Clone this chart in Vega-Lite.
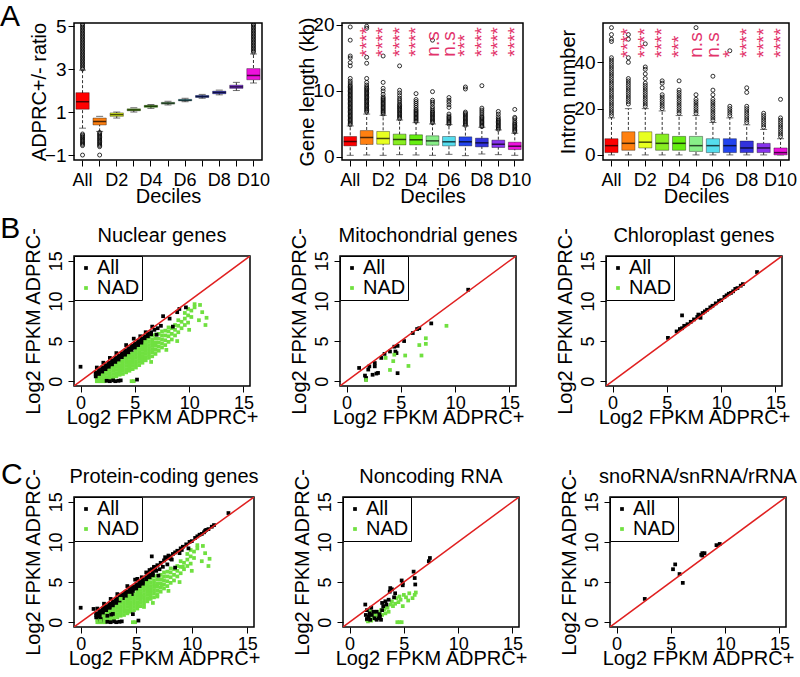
{
"$schema":"https://vega.github.io/schema/vega-lite/v6.json",
"padding":{"left":0,"top":2,"right":0,"bottom":0},
"config":{
 "font":"Liberation Sans",
 "view":{"stroke":"black","strokeWidth":1.5},
 "axis":{"domain":false,"grid":false,"tickColor":"black","labelColor":"black","titleColor":"black","labelFontSize":19,"titleFontSize":20,"titleFontWeight":"normal","tickSize":6,"labelPadding":3},
 "title":{"fontSize":20,"fontWeight":"normal","color":"black","offset":-19,"frame":"group"},
 "legend":{"orient":"top-left","offset":0,"padding":2,"strokeColor":"black","fillColor":"white","labelFontSize":20,"symbolType":"square","symbolSize":14,"rowPadding":-2,"labelOffset":1,"symbolStrokeWidth":0,"labelLimit":0}
},
"datasets":{
"diag":[{"x":-0.6,"y":-0.6,"x2":15.6,"y2":15.6}],
"a1b":[
{"d":"All","lo":0.25,"q1":1.13,"med":1.48,"q3":1.9,"hi":2.95},
{"d":"D1","lo":0.1,"q1":0.4,"med":0.56,"q3":0.72,"hi":0.8},
{"d":"D2","lo":0.72,"q1":0.8,"med":0.88,"q3":0.96,"hi":1.0},
{"d":"D3","lo":1.0,"q1":1.06,"med":1.1,"q3":1.15,"hi":1.2},
{"d":"D4","lo":1.17,"q1":1.22,"med":1.27,"q3":1.31,"hi":1.35},
{"d":"D5","lo":1.33,"q1":1.37,"med":1.41,"q3":1.45,"hi":1.5},
{"d":"D6","lo":1.48,"q1":1.52,"med":1.55,"q3":1.59,"hi":1.64},
{"d":"D7","lo":1.64,"q1":1.68,"med":1.72,"q3":1.77,"hi":1.82},
{"d":"D8","lo":1.8,"q1":1.85,"med":1.91,"q3":1.97,"hi":2.02},
{"d":"D9","lo":2.0,"q1":2.1,"med":2.17,"q3":2.25,"hi":2.38},
{"d":"D10","lo":2.35,"q1":2.5,"med":2.7,"q3":3.02,"hi":3.7}
],
"a1o":[
{"d":"All","v":3.0},{"d":"All","v":3.07},{"d":"All","v":3.14},{"d":"All","v":3.21},{"d":"All","v":3.28},{"d":"All","v":3.35},{"d":"All","v":3.42},{"d":"All","v":3.49},{"d":"All","v":3.56},{"d":"All","v":3.63},{"d":"All","v":3.7},{"d":"All","v":3.77},{"d":"All","v":3.84},{"d":"All","v":3.91},{"d":"All","v":3.98},{"d":"All","v":4.05},{"d":"All","v":4.12},{"d":"All","v":4.19},{"d":"All","v":4.26},{"d":"All","v":4.33},{"d":"All","v":4.4},{"d":"All","v":4.47},{"d":"All","v":4.54},{"d":"All","v":4.61},{"d":"All","v":4.68},{"d":"All","v":4.75},{"d":"All","v":4.82},{"d":"All","v":4.89},{"d":"All","v":4.96},{"d":"All","v":5.03},{"d":"All","v":5.1},
{"d":"All","v":-0.02},{"d":"All","v":-0.08},{"d":"All","v":-0.14},{"d":"All","v":-0.2},{"d":"All","v":-0.26},{"d":"All","v":-0.32},{"d":"All","v":-0.38},{"d":"All","v":-0.44},{"d":"All","v":-0.5},{"d":"All","v":-0.56},{"d":"All","v":-1.0},
{"d":"D1","v":0.05},{"d":"D1","v":-0.01},{"d":"D1","v":-0.07},{"d":"D1","v":-0.13},{"d":"D1","v":-0.19},{"d":"D1","v":-0.25},{"d":"D1","v":-0.31},{"d":"D1","v":-0.37},{"d":"D1","v":-0.43},{"d":"D1","v":-0.49},{"d":"D1","v":-0.55},{"d":"D1","v":-0.61},{"d":"D1","v":-1.0},
{"d":"D10","v":3.78},{"d":"D10","v":3.85},{"d":"D10","v":3.92},{"d":"D10","v":3.99},{"d":"D10","v":4.06},{"d":"D10","v":4.13},{"d":"D10","v":4.2},{"d":"D10","v":4.27},{"d":"D10","v":4.34},{"d":"D10","v":4.41},{"d":"D10","v":4.48},{"d":"D10","v":4.55},{"d":"D10","v":4.62},{"d":"D10","v":4.69},{"d":"D10","v":4.76},{"d":"D10","v":4.83},{"d":"D10","v":4.9},{"d":"D10","v":4.97},{"d":"D10","v":5.04},{"d":"D10","v":5.1}
],
"a2b":[
{"d":"All","lo":0.25,"q1":1.68,"med":2.34,"q3":3.1,"hi":4.7},
{"d":"D1","lo":0.3,"q1":1.9,"med":2.95,"q3":4.0,"hi":6.5},
{"d":"D2","lo":0.25,"q1":1.93,"med":2.8,"q3":3.87,"hi":6.3},
{"d":"D3","lo":0.35,"q1":1.83,"med":2.65,"q3":3.46,"hi":5.6},
{"d":"D4","lo":0.3,"q1":1.83,"med":2.6,"q3":3.36,"hi":5.2},
{"d":"D5","lo":0.25,"q1":1.78,"med":2.44,"q3":3.2,"hi":5.0},
{"d":"D6","lo":0.4,"q1":1.68,"med":2.3,"q3":3.1,"hi":4.9},
{"d":"D7","lo":0.2,"q1":1.68,"med":2.3,"q3":3.05,"hi":4.7},
{"d":"D8","lo":0.45,"q1":1.53,"med":2.14,"q3":2.85,"hi":4.5},
{"d":"D9","lo":0.35,"q1":1.43,"med":1.93,"q3":2.55,"hi":4.1},
{"d":"D10","lo":0.25,"q1":1.12,"med":1.63,"q3":2.24,"hi":3.6}
],
"a2o":[
{"d":"All","v":4.9},{"d":"All","v":5.1},{"d":"All","v":5.3},{"d":"All","v":5.5},{"d":"All","v":5.7},{"d":"All","v":5.9},{"d":"All","v":6.1},{"d":"All","v":6.3},{"d":"All","v":6.5},{"d":"All","v":6.7},{"d":"All","v":6.9},{"d":"All","v":7.1},{"d":"All","v":7.3},{"d":"All","v":7.5},{"d":"All","v":7.7},{"d":"All","v":7.9},{"d":"All","v":8.1},{"d":"All","v":8.3},{"d":"All","v":8.5},{"d":"All","v":8.7},{"d":"All","v":8.9},{"d":"All","v":9.1},{"d":"All","v":9.3},{"d":"All","v":9.5},{"d":"All","v":9.7},{"d":"All","v":9.9},{"d":"All","v":10.1},{"d":"All","v":10.3},{"d":"All","v":10.5},{"d":"All","v":10.7},{"d":"All","v":10.9},{"d":"All","v":11.2},{"d":"All","v":11.5},{"d":"All","v":11.9},{"d":"All","v":13.8},{"d":"All","v":14.3},{"d":"All","v":15.0},{"d":"All","v":15.3},{"d":"All","v":17.7},{"d":"All","v":19.7},
{"d":"D1","v":6.8},{"d":"D1","v":7.0},{"d":"D1","v":7.2},{"d":"D1","v":7.4},{"d":"D1","v":7.6},{"d":"D1","v":7.8},{"d":"D1","v":8.0},{"d":"D1","v":8.2},{"d":"D1","v":8.4},{"d":"D1","v":8.6},{"d":"D1","v":8.8},{"d":"D1","v":9.0},{"d":"D1","v":9.2},{"d":"D1","v":9.4},{"d":"D1","v":9.6},{"d":"D1","v":9.8},{"d":"D1","v":10.0},{"d":"D1","v":10.2},{"d":"D1","v":10.4},{"d":"D1","v":10.6},{"d":"D1","v":10.9},{"d":"D1","v":11.3},{"d":"D1","v":11.9},{"d":"D1","v":14.2},{"d":"D1","v":15.1},{"d":"D1","v":19.5},{"d":"D1","v":19.8},
{"d":"D2","v":6.5},{"d":"D2","v":6.7},{"d":"D2","v":6.9},{"d":"D2","v":7.1},{"d":"D2","v":7.3},{"d":"D2","v":7.5},{"d":"D2","v":7.7},{"d":"D2","v":7.9},{"d":"D2","v":8.1},{"d":"D2","v":8.3},{"d":"D2","v":8.5},{"d":"D2","v":8.7},{"d":"D2","v":8.9},{"d":"D2","v":9.1},{"d":"D2","v":9.5},{"d":"D2","v":10.0},{"d":"D2","v":10.4},{"d":"D2","v":11.3},{"d":"D2","v":15.3},
{"d":"D3","v":5.8},{"d":"D3","v":6.0},{"d":"D3","v":6.2},{"d":"D3","v":6.4},{"d":"D3","v":6.6},{"d":"D3","v":6.8},{"d":"D3","v":7.0},{"d":"D3","v":7.2},{"d":"D3","v":7.4},{"d":"D3","v":7.6},{"d":"D3","v":7.8},{"d":"D3","v":8.0},{"d":"D3","v":8.3},{"d":"D3","v":8.6},{"d":"D3","v":8.9},{"d":"D3","v":9.3},{"d":"D3","v":9.7},{"d":"D3","v":10.1},{"d":"D3","v":13.8},
{"d":"D4","v":5.4},{"d":"D4","v":5.6},{"d":"D4","v":5.8},{"d":"D4","v":6.0},{"d":"D4","v":6.2},{"d":"D4","v":6.4},{"d":"D4","v":6.6},{"d":"D4","v":6.8},{"d":"D4","v":7.0},{"d":"D4","v":7.2},{"d":"D4","v":7.5},{"d":"D4","v":7.8},{"d":"D4","v":8.1},{"d":"D4","v":8.4},{"d":"D4","v":8.7},{"d":"D4","v":9.6},
{"d":"D5","v":5.2},{"d":"D5","v":5.4},{"d":"D5","v":5.6},{"d":"D5","v":5.8},{"d":"D5","v":6.0},{"d":"D5","v":6.2},{"d":"D5","v":6.4},{"d":"D5","v":6.6},{"d":"D5","v":6.8},{"d":"D5","v":7.0},{"d":"D5","v":7.3},{"d":"D5","v":7.6},{"d":"D5","v":8.0},{"d":"D5","v":8.3},{"d":"D5","v":8.6},{"d":"D5","v":9.9},{"d":"D5","v":17.7},
{"d":"D6","v":5.0},{"d":"D6","v":5.2},{"d":"D6","v":5.4},{"d":"D6","v":5.6},{"d":"D6","v":5.8},{"d":"D6","v":6.0},{"d":"D6","v":6.2},{"d":"D6","v":6.5},{"d":"D6","v":7.5},{"d":"D6","v":7.9},{"d":"D6","v":8.3},{"d":"D6","v":8.6},{"d":"D6","v":9.0},
{"d":"D7","v":4.8},{"d":"D7","v":5.0},{"d":"D7","v":5.2},{"d":"D7","v":5.4},{"d":"D7","v":5.6},{"d":"D7","v":5.8},{"d":"D7","v":6.0},{"d":"D7","v":6.2},{"d":"D7","v":6.4},{"d":"D7","v":6.6},{"d":"D7","v":6.8},{"d":"D7","v":10.3},{"d":"D7","v":10.6},
{"d":"D8","v":4.6},{"d":"D8","v":4.8},{"d":"D8","v":5.0},{"d":"D8","v":5.2},{"d":"D8","v":5.4},{"d":"D8","v":5.6},{"d":"D8","v":5.8},{"d":"D8","v":6.0},{"d":"D8","v":6.2},{"d":"D8","v":6.5},{"d":"D8","v":6.8},{"d":"D8","v":7.1},{"d":"D8","v":7.4},{"d":"D8","v":10.8},
{"d":"D9","v":4.2},{"d":"D9","v":4.4},{"d":"D9","v":4.6},{"d":"D9","v":4.8},{"d":"D9","v":5.0},{"d":"D9","v":5.2},{"d":"D9","v":5.4},{"d":"D9","v":5.6},{"d":"D9","v":5.8},{"d":"D9","v":6.1},{"d":"D9","v":6.5},{"d":"D9","v":6.9},
{"d":"D10","v":3.8},{"d":"D10","v":4.0},{"d":"D10","v":4.2},{"d":"D10","v":4.4},{"d":"D10","v":4.6},{"d":"D10","v":4.8},{"d":"D10","v":5.0},{"d":"D10","v":5.2},{"d":"D10","v":5.5},{"d":"D10","v":5.8},{"d":"D10","v":6.0},{"d":"D10","v":7.2}
],
"a2s":[
{"d":"D1","s":"****","y":15.2},{"d":"D2","s":"****","y":15.2},{"d":"D3","s":"****","y":15.2},{"d":"D4","s":"****","y":15.2},{"d":"D5","s":"n.s","y":15.2},{"d":"D6","s":"n.s","y":15.2},{"d":"D7","s":"***","y":15.2},{"d":"D8","s":"****","y":15.2},{"d":"D9","s":"****","y":15.2},{"d":"D10","s":"****","y":15.2}
],
"a3b":[
{"d":"All","lo":0,"q1":1,"med":4,"q3":7,"hi":16},
{"d":"D1","lo":0,"q1":2,"med":5,"q3":10,"hi":20},
{"d":"D2","lo":0,"q1":3,"med":5.5,"q3":10,"hi":20},
{"d":"D3","lo":0,"q1":2,"med":5,"q3":9,"hi":19},
{"d":"D4","lo":0,"q1":2,"med":5,"q3":8,"hi":17},
{"d":"D5","lo":0,"q1":1.5,"med":4,"q3":8,"hi":17},
{"d":"D6","lo":0,"q1":1,"med":4,"q3":7,"hi":14},
{"d":"D7","lo":0,"q1":1,"med":4,"q3":7,"hi":16},
{"d":"D8","lo":0,"q1":1,"med":3,"q3":6,"hi":13},
{"d":"D9","lo":0,"q1":1,"med":3,"q3":5,"hi":11},
{"d":"D10","lo":0,"q1":0,"med":1,"q3":3,"hi":7}
],
"a3o":[
{"d":"All","v":17},{"d":"All","v":18},{"d":"All","v":19},{"d":"All","v":20},{"d":"All","v":21},{"d":"All","v":22},{"d":"All","v":23},{"d":"All","v":24},{"d":"All","v":25},{"d":"All","v":26},{"d":"All","v":27},{"d":"All","v":28},{"d":"All","v":29},{"d":"All","v":30},{"d":"All","v":31},{"d":"All","v":32},{"d":"All","v":33},{"d":"All","v":34},{"d":"All","v":35},{"d":"All","v":36},{"d":"All","v":37},{"d":"All","v":38},{"d":"All","v":39},{"d":"All","v":40},{"d":"All","v":41},{"d":"All","v":42},{"d":"All","v":49},{"d":"All","v":50},{"d":"All","v":52},{"d":"All","v":55},
{"d":"D1","v":22},{"d":"D1","v":23},{"d":"D1","v":24},{"d":"D1","v":25},{"d":"D1","v":26},{"d":"D1","v":27},{"d":"D1","v":28},{"d":"D1","v":29},{"d":"D1","v":30},{"d":"D1","v":31},{"d":"D1","v":32},{"d":"D1","v":33},{"d":"D1","v":40},{"d":"D1","v":42},{"d":"D1","v":50},{"d":"D1","v":52},
{"d":"D2","v":21},{"d":"D2","v":22},{"d":"D2","v":23},{"d":"D2","v":24},{"d":"D2","v":25},{"d":"D2","v":26},{"d":"D2","v":27},{"d":"D2","v":28},{"d":"D2","v":29},{"d":"D2","v":30},{"d":"D2","v":31},{"d":"D2","v":33},{"d":"D2","v":35},{"d":"D2","v":37},{"d":"D2","v":38},{"d":"D2","v":48},
{"d":"D3","v":20},{"d":"D3","v":21},{"d":"D3","v":22},{"d":"D3","v":23},{"d":"D3","v":24},{"d":"D3","v":25},{"d":"D3","v":26},{"d":"D3","v":29},{"d":"D3","v":31},{"d":"D3","v":32},
{"d":"D4","v":18},{"d":"D4","v":19},{"d":"D4","v":20},{"d":"D4","v":21},{"d":"D4","v":22},{"d":"D4","v":23},{"d":"D4","v":24},{"d":"D4","v":25},{"d":"D4","v":26},{"d":"D4","v":27},{"d":"D4","v":28},{"d":"D4","v":32},
{"d":"D5","v":18},{"d":"D5","v":19},{"d":"D5","v":20},{"d":"D5","v":21},{"d":"D5","v":22},{"d":"D5","v":23},{"d":"D5","v":24},{"d":"D5","v":26},{"d":"D5","v":55},
{"d":"D6","v":15},{"d":"D6","v":16},{"d":"D6","v":17},{"d":"D6","v":18},{"d":"D6","v":19},{"d":"D6","v":20},{"d":"D6","v":21},{"d":"D6","v":22},{"d":"D6","v":23},{"d":"D6","v":24},{"d":"D6","v":26},{"d":"D6","v":28},{"d":"D6","v":34},
{"d":"D7","v":17},{"d":"D7","v":18},{"d":"D7","v":19},{"d":"D7","v":20},{"d":"D7","v":21},{"d":"D7","v":45},
{"d":"D8","v":14},{"d":"D8","v":15},{"d":"D8","v":16},{"d":"D8","v":17},{"d":"D8","v":18},{"d":"D8","v":19},{"d":"D8","v":20},{"d":"D8","v":21},{"d":"D8","v":27},{"d":"D8","v":29},
{"d":"D9","v":12},{"d":"D9","v":13},{"d":"D9","v":14},{"d":"D9","v":15},{"d":"D9","v":16},{"d":"D9","v":17},{"d":"D9","v":18},
{"d":"D10","v":8},{"d":"D10","v":9},{"d":"D10","v":10},{"d":"D10","v":11},{"d":"D10","v":12},{"d":"D10","v":13},{"d":"D10","v":14},{"d":"D10","v":15},{"d":"D10","v":16},{"d":"D10","v":24}
],
"a3s":[
{"d":"D1","s":"****","y":42},{"d":"D2","s":"****","y":42},{"d":"D3","s":"****","y":42},{"d":"D4","s":"***","y":42},{"d":"D5","s":"n.s","y":42},{"d":"D6","s":"n.s","y":42},{"d":"D7","s":"*","y":42},{"d":"D8","s":"****","y":42},{"d":"D9","s":"****","y":42},{"d":"D10","s":"****","y":42}
],
"nuc":[
{"x":1.5,"y":0.0,"g":"NAD"},{"x":1.5,"y":0.3,"g":"NAD"},{"x":1.5,"y":0.6,"g":"NAD"},{"x":1.5,"y":0.9,"g":"NAD"},
{"x":1.8,"y":0.0,"g":"NAD"},{"x":1.8,"y":0.3,"g":"NAD"},{"x":1.8,"y":0.7,"g":"NAD"},{"x":1.8,"y":1.1,"g":"NAD"},
{"x":2.1,"y":0.0,"g":"NAD"},{"x":2.1,"y":0.4,"g":"NAD"},{"x":2.1,"y":0.8,"g":"NAD"},{"x":2.1,"y":1.2,"g":"NAD"},{"x":2.1,"y":1.5,"g":"NAD"},
{"x":2.4,"y":0.1,"g":"NAD"},{"x":2.4,"y":0.5,"g":"NAD"},{"x":2.4,"y":0.9,"g":"NAD"},{"x":2.4,"y":1.3,"g":"NAD"},{"x":2.4,"y":1.7,"g":"NAD"},
{"x":2.7,"y":0.2,"g":"NAD"},{"x":2.7,"y":0.6,"g":"NAD"},{"x":2.7,"y":1.0,"g":"NAD"},{"x":2.7,"y":1.4,"g":"NAD"},{"x":2.7,"y":1.8,"g":"NAD"},{"x":2.7,"y":2.0,"g":"NAD"},
{"x":3.0,"y":0.5,"g":"NAD"},{"x":3.0,"y":0.9,"g":"NAD"},{"x":3.0,"y":1.3,"g":"NAD"},{"x":3.0,"y":1.7,"g":"NAD"},{"x":3.0,"y":2.1,"g":"NAD"},{"x":3.0,"y":2.4,"g":"NAD"},
{"x":3.3,"y":0.6,"g":"NAD"},{"x":3.3,"y":1.0,"g":"NAD"},{"x":3.3,"y":1.4,"g":"NAD"},{"x":3.3,"y":1.8,"g":"NAD"},{"x":3.3,"y":2.2,"g":"NAD"},{"x":3.3,"y":2.6,"g":"NAD"},
{"x":3.6,"y":0.8,"g":"NAD"},{"x":3.6,"y":1.2,"g":"NAD"},{"x":3.6,"y":1.6,"g":"NAD"},{"x":3.6,"y":2.0,"g":"NAD"},{"x":3.6,"y":2.4,"g":"NAD"},{"x":3.6,"y":2.9,"g":"NAD"},
{"x":3.9,"y":0.9,"g":"NAD"},{"x":3.9,"y":1.3,"g":"NAD"},{"x":3.9,"y":1.7,"g":"NAD"},{"x":3.9,"y":2.1,"g":"NAD"},{"x":3.9,"y":2.5,"g":"NAD"},{"x":3.9,"y":2.9,"g":"NAD"},{"x":3.9,"y":3.2,"g":"NAD"},
{"x":4.2,"y":1.1,"g":"NAD"},{"x":4.2,"y":1.5,"g":"NAD"},{"x":4.2,"y":1.9,"g":"NAD"},{"x":4.2,"y":2.3,"g":"NAD"},{"x":4.2,"y":2.7,"g":"NAD"},{"x":4.2,"y":3.1,"g":"NAD"},{"x":4.2,"y":3.5,"g":"NAD"},
{"x":4.5,"y":1.3,"g":"NAD"},{"x":4.5,"y":1.7,"g":"NAD"},{"x":4.5,"y":2.1,"g":"NAD"},{"x":4.5,"y":2.5,"g":"NAD"},{"x":4.5,"y":2.9,"g":"NAD"},{"x":4.5,"y":3.3,"g":"NAD"},{"x":4.5,"y":3.8,"g":"NAD"},
{"x":4.8,"y":1.5,"g":"NAD"},{"x":4.8,"y":1.9,"g":"NAD"},{"x":4.8,"y":2.3,"g":"NAD"},{"x":4.8,"y":2.7,"g":"NAD"},{"x":4.8,"y":3.1,"g":"NAD"},{"x":4.8,"y":3.5,"g":"NAD"},{"x":4.8,"y":4.1,"g":"NAD"},
{"x":5.1,"y":1.7,"g":"NAD"},{"x":5.1,"y":2.1,"g":"NAD"},{"x":5.1,"y":2.5,"g":"NAD"},{"x":5.1,"y":2.9,"g":"NAD"},{"x":5.1,"y":3.3,"g":"NAD"},{"x":5.1,"y":3.7,"g":"NAD"},{"x":5.1,"y":4.1,"g":"NAD"},{"x":5.1,"y":4.4,"g":"NAD"},
{"x":5.4,"y":2.0,"g":"NAD"},{"x":5.4,"y":2.4,"g":"NAD"},{"x":5.4,"y":2.8,"g":"NAD"},{"x":5.4,"y":3.2,"g":"NAD"},{"x":5.4,"y":3.6,"g":"NAD"},{"x":5.4,"y":4.0,"g":"NAD"},{"x":5.4,"y":4.4,"g":"NAD"},{"x":5.4,"y":4.7,"g":"NAD"},
{"x":5.7,"y":2.3,"g":"NAD"},{"x":5.7,"y":2.7,"g":"NAD"},{"x":5.7,"y":3.1,"g":"NAD"},{"x":5.7,"y":3.5,"g":"NAD"},{"x":5.7,"y":3.9,"g":"NAD"},{"x":5.7,"y":4.3,"g":"NAD"},{"x":5.7,"y":4.7,"g":"NAD"},{"x":5.7,"y":5.0,"g":"NAD"},
{"x":6.0,"y":2.6,"g":"NAD"},{"x":6.0,"y":3.0,"g":"NAD"},{"x":6.0,"y":3.4,"g":"NAD"},{"x":6.0,"y":3.8,"g":"NAD"},{"x":6.0,"y":4.2,"g":"NAD"},{"x":6.0,"y":4.6,"g":"NAD"},{"x":6.0,"y":5.0,"g":"NAD"},{"x":6.0,"y":5.3,"g":"NAD"},
{"x":6.3,"y":2.9,"g":"NAD"},{"x":6.3,"y":3.3,"g":"NAD"},{"x":6.3,"y":3.7,"g":"NAD"},{"x":6.3,"y":4.1,"g":"NAD"},{"x":6.3,"y":4.5,"g":"NAD"},{"x":6.3,"y":4.9,"g":"NAD"},{"x":6.3,"y":5.4,"g":"NAD"},
{"x":6.6,"y":3.1,"g":"NAD"},{"x":6.6,"y":3.6,"g":"NAD"},{"x":6.6,"y":4.0,"g":"NAD"},{"x":6.6,"y":4.4,"g":"NAD"},{"x":6.6,"y":4.8,"g":"NAD"},{"x":6.6,"y":5.2,"g":"NAD"},{"x":6.6,"y":5.7,"g":"NAD"},
{"x":6.9,"y":3.4,"g":"NAD"},{"x":6.9,"y":3.9,"g":"NAD"},{"x":6.9,"y":4.4,"g":"NAD"},{"x":6.9,"y":4.8,"g":"NAD"},{"x":6.9,"y":5.3,"g":"NAD"},{"x":6.9,"y":5.8,"g":"NAD"},
{"x":7.2,"y":3.8,"g":"NAD"},{"x":7.2,"y":4.3,"g":"NAD"},{"x":7.2,"y":4.8,"g":"NAD"},{"x":7.2,"y":5.3,"g":"NAD"},{"x":7.2,"y":5.9,"g":"NAD"},
{"x":7.5,"y":4.2,"g":"NAD"},{"x":7.5,"y":4.7,"g":"NAD"},{"x":7.5,"y":5.2,"g":"NAD"},{"x":7.5,"y":5.7,"g":"NAD"},{"x":7.5,"y":6.2,"g":"NAD"},
{"x":7.8,"y":4.5,"g":"NAD"},{"x":7.8,"y":5.1,"g":"NAD"},{"x":7.8,"y":5.7,"g":"NAD"},{"x":7.8,"y":6.3,"g":"NAD"},
{"x":8.1,"y":4.9,"g":"NAD"},{"x":8.1,"y":5.6,"g":"NAD"},{"x":8.1,"y":6.2,"g":"NAD"},{"x":8.1,"y":6.7,"g":"NAD"},
{"x":8.4,"y":5.2,"g":"NAD"},{"x":8.4,"y":5.9,"g":"NAD"},{"x":8.4,"y":6.6,"g":"NAD"},
{"x":8.7,"y":5.7,"g":"NAD"},{"x":8.7,"y":6.4,"g":"NAD"},{"x":8.7,"y":7.0,"g":"NAD"},
{"x":9.0,"y":6.1,"g":"NAD"},{"x":9.0,"y":6.9,"g":"NAD"},{"x":9.0,"y":7.6,"g":"NAD"},
{"x":9.3,"y":6.6,"g":"NAD"},{"x":9.3,"y":7.4,"g":"NAD"},
{"x":9.6,"y":7.0,"g":"NAD"},{"x":9.6,"y":7.8,"g":"NAD"},{"x":9.6,"y":8.5,"g":"NAD"},
{"x":9.9,"y":7.3,"g":"NAD"},{"x":9.9,"y":8.2,"g":"NAD"},{"x":9.9,"y":9.0,"g":"NAD"},
{"x":10.2,"y":8.0,"g":"NAD"},{"x":10.2,"y":8.8,"g":"NAD"},
{"x":10.5,"y":9.2,"g":"NAD"},{"x":10.5,"y":9.6,"g":"NAD"},
{"x":11.5,"y":7.0,"g":"NAD"},{"x":11.6,"y":7.9,"g":"NAD"},{"x":11.2,"y":8.6,"g":"NAD"},{"x":10.9,"y":7.6,"g":"NAD"},{"x":10.0,"y":6.4,"g":"NAD"},{"x":8.9,"y":5.0,"g":"NAD"},{"x":7.9,"y":3.9,"g":"NAD"},{"x":6.5,"y":2.4,"g":"NAD"},{"x":11.0,"y":9.5,"g":"NAD"},
{"x":1.6,"y":0.0,"g":"NAD"},{"x":1.9,"y":0.0,"g":"NAD"},{"x":2.2,"y":0.0,"g":"NAD"},{"x":4.7,"y":0.0,"g":"NAD"},{"x":4.9,"y":0.0,"g":"NAD"},
{"x":1.4,"y":1.1,"g":"All"},{"x":1.4,"y":0.85,"g":"All"},{"x":1.4,"y":0.6,"g":"All"},
{"x":1.7,"y":1.4,"g":"All"},{"x":1.7,"y":1.15,"g":"All"},{"x":1.7,"y":0.9,"g":"All"},
{"x":2.0,"y":1.7,"g":"All"},{"x":2.0,"y":1.45,"g":"All"},{"x":2.0,"y":1.2,"g":"All"},
{"x":2.3,"y":2.0,"g":"All"},{"x":2.3,"y":1.75,"g":"All"},{"x":2.3,"y":1.5,"g":"All"},
{"x":2.6,"y":2.3,"g":"All"},{"x":2.6,"y":2.05,"g":"All"},{"x":2.6,"y":1.8,"g":"All"},
{"x":2.9,"y":2.6,"g":"All"},{"x":2.9,"y":2.35,"g":"All"},{"x":2.9,"y":2.1,"g":"All"},
{"x":3.2,"y":2.9,"g":"All"},{"x":3.2,"y":2.65,"g":"All"},{"x":3.2,"y":2.4,"g":"All"},
{"x":3.5,"y":3.2,"g":"All"},{"x":3.5,"y":2.95,"g":"All"},{"x":3.5,"y":2.7,"g":"All"},
{"x":3.8,"y":3.5,"g":"All"},{"x":3.8,"y":3.25,"g":"All"},{"x":3.8,"y":3.0,"g":"All"},
{"x":4.1,"y":3.8,"g":"All"},{"x":4.1,"y":3.55,"g":"All"},{"x":4.1,"y":3.3,"g":"All"},
{"x":4.4,"y":4.1,"g":"All"},{"x":4.4,"y":3.85,"g":"All"},{"x":4.4,"y":3.6,"g":"All"},
{"x":4.7,"y":4.4,"g":"All"},{"x":4.7,"y":4.15,"g":"All"},{"x":4.7,"y":3.9,"g":"All"},
{"x":5.0,"y":4.7,"g":"All"},{"x":5.0,"y":4.45,"g":"All"},{"x":5.0,"y":4.2,"g":"All"},
{"x":5.3,"y":5.0,"g":"All"},{"x":5.3,"y":4.75,"g":"All"},{"x":5.3,"y":4.5,"g":"All"},
{"x":5.6,"y":5.3,"g":"All"},{"x":5.6,"y":5.05,"g":"All"},{"x":5.6,"y":4.8,"g":"All"},
{"x":5.9,"y":5.6,"g":"All"},{"x":5.9,"y":5.35,"g":"All"},
{"x":6.2,"y":5.9,"g":"All"},{"x":6.2,"y":5.6,"g":"All"},
{"x":6.5,"y":6.1,"g":"All"},{"x":6.5,"y":5.85,"g":"All"},
{"x":6.8,"y":6.4,"g":"All"},{"x":7.1,"y":6.6,"g":"All"},{"x":7.4,"y":6.9,"g":"All"},
{"x":0.0,"y":1.8,"g":"All"},{"x":1.5,"y":1.7,"g":"All"},{"x":2.1,"y":2.3,"g":"All"},{"x":2.7,"y":2.9,"g":"All"},{"x":3.3,"y":3.5,"g":"All"},{"x":4.2,"y":4.5,"g":"All"},{"x":4.9,"y":5.3,"g":"All"},{"x":5.5,"y":5.6,"g":"All"},{"x":6.0,"y":6.1,"g":"All"},{"x":6.6,"y":6.8,"g":"All"},{"x":7.6,"y":8.1,"g":"All"},{"x":8.2,"y":7.8,"g":"All"},{"x":8.9,"y":8.6,"g":"All"},{"x":9.1,"y":9.0,"g":"All"},{"x":9.7,"y":9.2,"g":"All"},{"x":8.5,"y":6.8,"g":"All"},{"x":7.0,"y":5.8,"g":"All"},
{"x":2.4,"y":0.05,"g":"All"},{"x":2.7,"y":0.0,"g":"All"},{"x":3.0,"y":0.1,"g":"All"},{"x":3.2,"y":0.0,"g":"All"},{"x":3.5,"y":0.05,"g":"All"},{"x":3.7,"y":0.1,"g":"All"},{"x":5.2,"y":0.2,"g":"All"}
],
"mito":[
{"x":1.16,"y":1.65,"g":"All"},{"x":2.0,"y":1.45,"g":"All"},{"x":2.1,"y":1.85,"g":"All"},{"x":1.7,"y":0.7,"g":"All"},{"x":1.8,"y":0.4,"g":"All"},{"x":1.8,"y":0.2,"g":"All"},{"x":2.6,"y":2.26,"g":"All"},{"x":2.6,"y":1.85,"g":"All"},{"x":2.75,"y":0.95,"g":"All"},{"x":2.9,"y":1.03,"g":"All"},{"x":2.4,"y":0.8,"g":"All"},{"x":3.2,"y":2.9,"g":"All"},{"x":3.5,"y":3.4,"g":"All"},{"x":4.0,"y":3.7,"g":"All"},{"x":4.4,"y":4.3,"g":"All"},{"x":4.5,"y":3.7,"g":"All"},{"x":4.6,"y":3.5,"g":"All"},{"x":4.7,"y":4.4,"g":"All"},{"x":5.3,"y":5.0,"g":"All"},{"x":4.7,"y":1.0,"g":"All"},{"x":6.1,"y":6.0,"g":"All"},{"x":6.5,"y":6.5,"g":"All"},{"x":6.7,"y":6.6,"g":"All"},{"x":7.8,"y":7.2,"g":"All"},{"x":11.2,"y":11.4,"g":"All"},
{"x":1.8,"y":0.15,"g":"NAD"},{"x":3.6,"y":2.9,"g":"NAD"},{"x":4.3,"y":2.5,"g":"NAD"},{"x":4.4,"y":3.3,"g":"NAD"},{"x":5.4,"y":3.2,"g":"NAD"},{"x":5.7,"y":1.9,"g":"NAD"},{"x":4.0,"y":1.4,"g":"NAD"},{"x":6.7,"y":4.5,"g":"NAD"},{"x":7.3,"y":5.35,"g":"NAD"},{"x":7.3,"y":4.65,"g":"NAD"},{"x":6.9,"y":3.2,"g":"NAD"},{"x":9.2,"y":6.9,"g":"NAD"}
],
"chl":[
{"x":5.1,"y":5.4,"g":"All"},{"x":5.9,"y":6.2,"g":"All"},{"x":6.2,"y":6.5,"g":"All"},{"x":6.4,"y":6.6,"g":"All"},{"x":6.6,"y":6.9,"g":"All"},{"x":6.9,"y":7.1,"g":"All"},{"x":7.2,"y":7.4,"g":"All"},{"x":7.5,"y":7.7,"g":"All"},{"x":7.8,"y":8.0,"g":"All"},{"x":7.9,"y":8.3,"g":"All"},{"x":8.1,"y":7.9,"g":"All"},{"x":8.3,"y":8.5,"g":"All"},{"x":8.5,"y":8.7,"g":"All"},{"x":8.7,"y":8.9,"g":"All"},{"x":9.0,"y":9.2,"g":"All"},{"x":9.2,"y":9.4,"g":"All"},{"x":9.5,"y":9.7,"g":"All"},{"x":9.8,"y":10.0,"g":"All"},{"x":10.0,"y":10.1,"g":"All"},{"x":10.3,"y":10.5,"g":"All"},{"x":10.5,"y":10.7,"g":"All"},{"x":10.7,"y":10.9,"g":"All"},{"x":10.9,"y":11.0,"g":"All"},{"x":11.1,"y":11.2,"g":"All"},{"x":11.3,"y":11.5,"g":"All"},{"x":11.5,"y":11.6,"g":"All"},{"x":11.8,"y":11.9,"g":"All"},{"x":12.0,"y":12.1,"g":"All"},{"x":13.3,"y":13.6,"g":"All"},{"x":6.4,"y":8.2,"g":"All"},{"x":8.0,"y":8.2,"g":"All"}
],
"nc":[
{"x":1.6,"y":0.3,"g":"NAD"},{"x":1.7,"y":0.1,"g":"NAD"},{"x":1.8,"y":0.6,"g":"NAD"},{"x":2.0,"y":0.2,"g":"NAD"},{"x":2.0,"y":0.9,"g":"NAD"},{"x":2.2,"y":0.6,"g":"NAD"},{"x":2.3,"y":1.0,"g":"NAD"},{"x":2.5,"y":1.3,"g":"NAD"},{"x":2.6,"y":0.8,"g":"NAD"},{"x":2.8,"y":1.1,"g":"NAD"},{"x":2.9,"y":1.5,"g":"NAD"},{"x":3.0,"y":0.9,"g":"NAD"},{"x":3.2,"y":1.6,"g":"NAD"},{"x":3.4,"y":2.0,"g":"NAD"},{"x":3.5,"y":1.8,"g":"NAD"},{"x":3.6,"y":1.3,"g":"NAD"},{"x":3.8,"y":2.2,"g":"NAD"},{"x":3.9,"y":2.6,"g":"NAD"},{"x":4.0,"y":2.0,"g":"NAD"},{"x":4.2,"y":2.3,"g":"NAD"},{"x":4.3,"y":3.0,"g":"NAD"},{"x":4.5,"y":2.5,"g":"NAD"},{"x":4.6,"y":3.2,"g":"NAD"},{"x":4.7,"y":2.8,"g":"NAD"},{"x":4.9,"y":2.0,"g":"NAD"},{"x":5.0,"y":3.4,"g":"NAD"},{"x":5.2,"y":3.1,"g":"NAD"},{"x":5.4,"y":2.7,"g":"NAD"},{"x":5.5,"y":3.6,"g":"NAD"},{"x":6.0,"y":3.4,"g":"NAD"},{"x":6.1,"y":3.7,"g":"NAD"},{"x":5.8,"y":3.0,"g":"NAD"},{"x":4.4,"y":0.0,"g":"NAD"},{"x":4.6,"y":0.0,"g":"NAD"},{"x":4.8,"y":0.0,"g":"NAD"},{"x":3.3,"y":1.1,"g":"NAD"},{"x":2.4,"y":0.4,"g":"NAD"},{"x":1.9,"y":1.4,"g":"NAD"},
{"x":1.45,"y":2.2,"g":"All"},{"x":1.6,"y":1.5,"g":"All"},{"x":1.85,"y":1.1,"g":"All"},{"x":2.05,"y":0.9,"g":"All"},{"x":2.5,"y":1.3,"g":"All"},{"x":2.7,"y":0.5,"g":"All"},{"x":2.8,"y":0.7,"g":"All"},{"x":3.0,"y":2.4,"g":"All"},{"x":3.3,"y":2.6,"g":"All"},{"x":3.1,"y":2.0,"g":"All"},{"x":3.6,"y":2.8,"g":"All"},{"x":3.75,"y":4.25,"g":"All"},{"x":3.9,"y":4.1,"g":"All"},{"x":3.7,"y":3.8,"g":"All"},{"x":4.1,"y":3.1,"g":"All"},{"x":4.2,"y":3.6,"g":"All"},{"x":4.8,"y":5.2,"g":"All"},{"x":4.9,"y":4.9,"g":"All"},{"x":4.9,"y":4.6,"g":"All"},{"x":5.9,"y":6.3,"g":"All"},{"x":6.0,"y":5.5,"g":"All"},{"x":6.05,"y":4.7,"g":"All"},{"x":7.4,"y":8.0,"g":"All"},{"x":7.3,"y":7.6,"g":"All"},{"x":1.75,"y":0.7,"g":"All"},{"x":1.9,"y":0.3,"g":"All"},{"x":2.3,"y":0.5,"g":"All"},{"x":2.5,"y":0.3,"g":"All"},{"x":2.2,"y":1.3,"g":"All"},{"x":2.75,"y":1.0,"g":"All"},{"x":1.5,"y":0.9,"g":"All"},{"x":3.0,"y":1.5,"g":"All"},{"x":1.6,"y":0.4,"g":"All"},{"x":2.0,"y":1.8,"g":"All"},{"x":2.9,"y":0.3,"g":"All"},{"x":3.4,"y":2.2,"g":"All"}
],
"sno":[
{"x":2.6,"y":2.9,"g":"All"},{"x":5.2,"y":6.6,"g":"All"},{"x":5.4,"y":7.2,"g":"All"},{"x":5.8,"y":6.0,"g":"All"},{"x":6.1,"y":4.9,"g":"All"},{"x":7.8,"y":8.4,"g":"All"},{"x":7.9,"y":8.6,"g":"All"},{"x":8.1,"y":8.6,"g":"All"},{"x":9.2,"y":9.6,"g":"All"},{"x":9.5,"y":9.75,"g":"All"},{"x":7.9,"y":8.3,"g":"All"}
]
},
"resolve":{"scale":{"color":"independent"},"legend":{"color":"independent"}},
"spacing":7,
"vconcat":[
{
 "title":{"text":"A","orient":"left","anchor":"end","angle":0,"fontSize":30,"baseline":"top","align":"right","offset":-11.5,"dy":-13,"frame":"bounds"},
 "resolve":{"scale":{"color":"independent"},"legend":{"color":"independent"}},
 "spacing":26,
 "hconcat":[
 {"width":188,"height":137,
  "encoding":{"x":{"field":"d","type":"nominal","title":"Deciles","scale":{"domain":["All","D1","D2","D3","D4","D5","D6","D7","D8","D9","D10"],"paddingInner":0.22,"paddingOuter":0.11},"axis":{"labelAngle":0,"labelExpr":"indexof(['D1','D3','D5','D7','D9'], datum.value) >= 0 ? '' : datum.value","labelFontSize":18,"labelPadding":5,"titlePadding":-3}}},
  "layer":[
   {"data":{"name":"a1b"},"mark":{"type":"rule","color":"#333","strokeDash":[3,2]},"encoding":{"y":{"field":"lo","type":"quantitative","title":"ADPRC+/- ratio","scale":{"domain":[-1.23,5.14],"nice":false,"zero":false},"axis":{"values":[-1,0,1,2,3,4,5],"labelPadding":2,"titlePadding":-5}},"y2":{"field":"hi"}}},
   {"data":{"name":"a1b"},"mark":{"type":"tick","color":"#333","size":7,"thickness":1},"encoding":{"y":{"field":"lo","type":"quantitative","title":"ADPRC+/- ratio","scale":{"domain":[-1.23,5.14],"nice":false,"zero":false}}}},
   {"data":{"name":"a1b"},"mark":{"type":"tick","color":"#333","size":7,"thickness":1},"encoding":{"y":{"field":"hi","type":"quantitative","title":"ADPRC+/- ratio","scale":{"domain":[-1.23,5.14],"nice":false,"zero":false}}}},
   {"data":{"name":"a1b"},"mark":{"type":"bar","stroke":"black","strokeOpacity":0.45,"strokeWidth":0.8},"encoding":{"y":{"field":"q1","type":"quantitative","title":"ADPRC+/- ratio","scale":{"domain":[-1.23,5.14],"nice":false,"zero":false}},"y2":{"field":"q3"},"color":{"field":"d","type":"nominal","legend":null,"scale":{"domain":["All","D1","D2","D3","D4","D5","D6","D7","D8","D9","D10"],"range":["#FF0000","#FF8010","#E8FF20","#88EE22","#66EE11","#88EE88","#55DDEE","#2244EE","#3333DD","#8833EE","#EE11DD"]}}}},
   {"data":{"name":"a1b"},"mark":{"type":"tick","color":"black","opacity":0.7,"size":13,"thickness":1.5},"encoding":{"y":{"field":"med","type":"quantitative","title":"ADPRC+/- ratio","scale":{"domain":[-1.23,5.14],"nice":false,"zero":false}}}},
   {"data":{"name":"a1o"},"mark":{"type":"point","color":"black","size":16,"strokeWidth":0.8,"clip":true,"opacity":1},"encoding":{"y":{"field":"v","type":"quantitative","title":"ADPRC+/- ratio","scale":{"domain":[-1.23,5.14],"nice":false,"zero":false}}}}
  ]},
 {"width":181,"height":137,
  "encoding":{"x":{"field":"d","type":"nominal","title":"Deciles","scale":{"domain":["All","D1","D2","D3","D4","D5","D6","D7","D8","D9","D10"],"paddingInner":0.22,"paddingOuter":0.11},"axis":{"labelAngle":0,"labelExpr":"indexof(['D1','D3','D5','D7','D9'], datum.value) >= 0 ? '' : datum.value","labelFontSize":18,"labelPadding":5,"titlePadding":-3}}},
  "layer":[
   {"data":{"name":"a2b"},"mark":{"type":"rule","color":"#333","strokeDash":[3,2]},"encoding":{"y":{"field":"lo","type":"quantitative","title":"Gene length (kb)","scale":{"domain":[-0.46,20.3],"nice":false,"zero":false},"axis":{"values":[0,5,10,15,20],"labelPadding":2,"titlePadding":-5}},"y2":{"field":"hi"}}},
   {"data":{"name":"a2b"},"mark":{"type":"tick","color":"#333","size":7,"thickness":1},"encoding":{"y":{"field":"lo","type":"quantitative","title":"Gene length (kb)","scale":{"domain":[-0.46,20.3],"nice":false,"zero":false}}}},
   {"data":{"name":"a2b"},"mark":{"type":"tick","color":"#333","size":7,"thickness":1},"encoding":{"y":{"field":"hi","type":"quantitative","title":"Gene length (kb)","scale":{"domain":[-0.46,20.3],"nice":false,"zero":false}}}},
   {"data":{"name":"a2b"},"mark":{"type":"bar","stroke":"black","strokeOpacity":0.45,"strokeWidth":0.8},"encoding":{"y":{"field":"q1","type":"quantitative","title":"Gene length (kb)","scale":{"domain":[-0.46,20.3],"nice":false,"zero":false}},"y2":{"field":"q3"},"color":{"field":"d","type":"nominal","legend":null,"scale":{"domain":["All","D1","D2","D3","D4","D5","D6","D7","D8","D9","D10"],"range":["#FF0000","#FF8010","#E8FF20","#88EE22","#66EE11","#88EE88","#55DDEE","#2244EE","#3333DD","#8833EE","#EE11DD"]}}}},
   {"data":{"name":"a2b"},"mark":{"type":"tick","color":"black","opacity":0.7,"size":13,"thickness":1.5},"encoding":{"y":{"field":"med","type":"quantitative","title":"Gene length (kb)","scale":{"domain":[-0.46,20.3],"nice":false,"zero":false}}}},
   {"data":{"name":"a2o"},"mark":{"type":"point","color":"black","size":16,"strokeWidth":0.8,"clip":true,"opacity":1},"encoding":{"y":{"field":"v","type":"quantitative","title":"Gene length (kb)","scale":{"domain":[-0.46,20.3],"nice":false,"zero":false}}}},
   {"data":{"name":"a2s"},"mark":{"type":"text","angle":270,"align":"left","baseline":"middle","fontSize":19,"color":"#E2336B"},"encoding":{"y":{"field":"y","type":"quantitative","title":"Gene length (kb)","scale":{"domain":[-0.46,20.3],"nice":false,"zero":false}},"text":{"field":"s"}}}
  ]},
 {"width":186,"height":137,
  "encoding":{"x":{"field":"d","type":"nominal","title":"Deciles","scale":{"domain":["All","D1","D2","D3","D4","D5","D6","D7","D8","D9","D10"],"paddingInner":0.22,"paddingOuter":0.11},"axis":{"labelAngle":0,"labelExpr":"indexof(['D1','D3','D5','D7','D9'], datum.value) >= 0 ? '' : datum.value","labelFontSize":18,"labelPadding":5,"titlePadding":-3}}},
  "layer":[
   {"data":{"name":"a3b"},"mark":{"type":"rule","color":"#333","strokeDash":[3,2]},"encoding":{"y":{"field":"lo","type":"quantitative","title":"Intron number","scale":{"domain":[-2.2,57],"nice":false,"zero":false},"axis":{"values":[0,10,20,30,40,50],"labelPadding":2,"titlePadding":-5}},"y2":{"field":"hi"}}},
   {"data":{"name":"a3b"},"mark":{"type":"tick","color":"#333","size":7,"thickness":1},"encoding":{"y":{"field":"lo","type":"quantitative","title":"Intron number","scale":{"domain":[-2.2,57],"nice":false,"zero":false}}}},
   {"data":{"name":"a3b"},"mark":{"type":"tick","color":"#333","size":7,"thickness":1},"encoding":{"y":{"field":"hi","type":"quantitative","title":"Intron number","scale":{"domain":[-2.2,57],"nice":false,"zero":false}}}},
   {"data":{"name":"a3b"},"mark":{"type":"bar","stroke":"black","strokeOpacity":0.45,"strokeWidth":0.8},"encoding":{"y":{"field":"q1","type":"quantitative","title":"Intron number","scale":{"domain":[-2.2,57],"nice":false,"zero":false}},"y2":{"field":"q3"},"color":{"field":"d","type":"nominal","legend":null,"scale":{"domain":["All","D1","D2","D3","D4","D5","D6","D7","D8","D9","D10"],"range":["#FF0000","#FF8010","#E8FF20","#88EE22","#66EE11","#88EE88","#55DDEE","#2244EE","#3333DD","#8833EE","#EE11DD"]}}}},
   {"data":{"name":"a3b"},"mark":{"type":"tick","color":"black","opacity":0.7,"size":13,"thickness":1.5},"encoding":{"y":{"field":"med","type":"quantitative","title":"Intron number","scale":{"domain":[-2.2,57],"nice":false,"zero":false}}}},
   {"data":{"name":"a3o"},"mark":{"type":"point","color":"black","size":16,"strokeWidth":0.8,"clip":true,"opacity":1},"encoding":{"y":{"field":"v","type":"quantitative","title":"Intron number","scale":{"domain":[-2.2,57],"nice":false,"zero":false}}}},
   {"data":{"name":"a3s"},"mark":{"type":"text","angle":270,"align":"left","baseline":"middle","fontSize":19,"color":"#E2336B"},"encoding":{"y":{"field":"y","type":"quantitative","title":"Intron number","scale":{"domain":[-2.2,57],"nice":false,"zero":false}},"text":{"field":"s"}}}
  ]}
 ]
},
{
 "resolve":{"scale":{"color":"independent"},"legend":{"color":"independent"}},
 "spacing":32,
 "vconcat":[
 {
  "title":{"text":"B","orient":"left","anchor":"end","angle":0,"fontSize":30,"baseline":"top","align":"right","offset":-18,"dy":-11,"frame":"bounds"},
  "resolve":{"scale":{"color":"independent"},"legend":{"color":"independent"}},
  "spacing":28,
  "hconcat":[
  {"width":176,"height":130,"title":"Nuclear genes",
   "layer":[
    {"data":{"name":"nuc"},"mark":{"type":"point","shape":"square","filled":true,"size":14,"opacity":1},"encoding":{"x":{"field":"x","type":"quantitative","title":"Log2 FPKM ADPRC+","scale":{"domain":[-0.6,15.6],"nice":false,"zero":false},"axis":{"values":[0,5,10,15],"labelFontSize":18,"labelPadding":2,"titlePadding":-5}},"y":{"field":"y","type":"quantitative","title":"Log2 FPKM ADPRC-","scale":{"domain":[-0.6,15.6],"nice":false,"zero":false},"axis":{"values":[0,5,10,15],"labelFontSize":18,"labelAngle":270,"labelAlign":"center","labelBaseline":"bottom"}},"color":{"field":"g","type":"nominal","scale":{"domain":["All","NAD"],"range":["black","#70E040"]},"legend":{"title":null,"encode":{"labels":{"update":{"fill":{"signal":"datum.value === 'NAD' ? '#70E040' : 'black'"}}}}}}}},
    {"data":{"name":"diag"},"mark":{"type":"rule","color":"#E02020","strokeWidth":1.5,"clip":true},"encoding":{"x":{"field":"x","type":"quantitative","title":"Log2 FPKM ADPRC+","scale":{"domain":[-0.6,15.6],"nice":false,"zero":false}},"y":{"field":"y","type":"quantitative","title":"Log2 FPKM ADPRC-","scale":{"domain":[-0.6,15.6],"nice":false,"zero":false}},"x2":{"field":"x2"},"y2":{"field":"y2"}}}
   ]},
  {"width":176,"height":130,"title":"Mitochondrial genes",
   "layer":[
    {"data":{"name":"mito"},"mark":{"type":"point","shape":"square","filled":true,"size":14,"opacity":1},"encoding":{"x":{"field":"x","type":"quantitative","title":"Log2 FPKM ADPRC+","scale":{"domain":[-0.6,15.6],"nice":false,"zero":false},"axis":{"values":[0,5,10,15],"labelFontSize":18,"labelPadding":2,"titlePadding":-5}},"y":{"field":"y","type":"quantitative","title":"Log2 FPKM ADPRC-","scale":{"domain":[-0.6,15.6],"nice":false,"zero":false},"axis":{"values":[0,5,10,15],"labelFontSize":18,"labelAngle":270,"labelAlign":"center","labelBaseline":"bottom"}},"color":{"field":"g","type":"nominal","scale":{"domain":["All","NAD"],"range":["black","#70E040"]},"legend":{"title":null,"encode":{"labels":{"update":{"fill":{"signal":"datum.value === 'NAD' ? '#70E040' : 'black'"}}}}}}}},
    {"data":{"name":"diag"},"mark":{"type":"rule","color":"#E02020","strokeWidth":1.5,"clip":true},"encoding":{"x":{"field":"x","type":"quantitative","title":"Log2 FPKM ADPRC+","scale":{"domain":[-0.6,15.6],"nice":false,"zero":false}},"y":{"field":"y","type":"quantitative","title":"Log2 FPKM ADPRC-","scale":{"domain":[-0.6,15.6],"nice":false,"zero":false}},"x2":{"field":"x2"},"y2":{"field":"y2"}}}
   ]},
  {"width":176,"height":130,"title":"Chloroplast genes",
   "layer":[
    {"data":{"name":"chl"},"mark":{"type":"point","shape":"square","filled":true,"size":14,"opacity":1},"encoding":{"x":{"field":"x","type":"quantitative","title":"Log2 FPKM ADPRC+","scale":{"domain":[-0.6,15.6],"nice":false,"zero":false},"axis":{"values":[0,5,10,15],"labelFontSize":18,"labelPadding":2,"titlePadding":-5}},"y":{"field":"y","type":"quantitative","title":"Log2 FPKM ADPRC-","scale":{"domain":[-0.6,15.6],"nice":false,"zero":false},"axis":{"values":[0,5,10,15],"labelFontSize":18,"labelAngle":270,"labelAlign":"center","labelBaseline":"bottom"}},"color":{"field":"g","type":"nominal","scale":{"domain":["All","NAD"],"range":["black","#70E040"]},"legend":{"title":null,"encode":{"labels":{"update":{"fill":{"signal":"datum.value === 'NAD' ? '#70E040' : 'black'"}}}}}}}},
    {"data":{"name":"diag"},"mark":{"type":"rule","color":"#E02020","strokeWidth":1.5,"clip":true},"encoding":{"x":{"field":"x","type":"quantitative","title":"Log2 FPKM ADPRC+","scale":{"domain":[-0.6,15.6],"nice":false,"zero":false}},"y":{"field":"y","type":"quantitative","title":"Log2 FPKM ADPRC-","scale":{"domain":[-0.6,15.6],"nice":false,"zero":false}},"x2":{"field":"x2"},"y2":{"field":"y2"}}}
   ]}
  ]
 },
 {
  "title":{"text":"C","orient":"left","anchor":"end","angle":0,"fontSize":30,"baseline":"top","align":"right","offset":-22,"dy":-6,"frame":"bounds"},
  "resolve":{"scale":{"color":"independent"},"legend":{"color":"independent"}},
  "spacing":29,
  "hconcat":[
  {"width":180,"height":130,"title":"Protein-coding genes",
   "layer":[
    {"data":{"name":"nuc"},"mark":{"type":"point","shape":"square","filled":true,"size":14,"opacity":1},"encoding":{"x":{"field":"x","type":"quantitative","title":"Log2 FPKM ADPRC+","scale":{"domain":[-0.6,15.6],"nice":false,"zero":false},"axis":{"values":[0,5,10,15],"labelFontSize":18,"labelPadding":2,"titlePadding":-5}},"y":{"field":"y","type":"quantitative","title":"Log2 FPKM ADPRC-","scale":{"domain":[-0.6,15.6],"nice":false,"zero":false},"axis":{"values":[0,5,10,15],"labelFontSize":18,"labelAngle":270,"labelAlign":"center","labelBaseline":"bottom"}},"color":{"field":"g","type":"nominal","scale":{"domain":["All","NAD"],"range":["black","#70E040"]},"legend":{"title":null,"encode":{"labels":{"update":{"fill":{"signal":"datum.value === 'NAD' ? '#70E040' : 'black'"}}}}}}}},
    {"data":{"name":"chl"},"mark":{"type":"point","shape":"square","filled":true,"size":14,"opacity":1},"encoding":{"x":{"field":"x","type":"quantitative","title":"Log2 FPKM ADPRC+","scale":{"domain":[-0.6,15.6],"nice":false,"zero":false}},"y":{"field":"y","type":"quantitative","title":"Log2 FPKM ADPRC-","scale":{"domain":[-0.6,15.6],"nice":false,"zero":false}},"color":{"field":"g","type":"nominal","scale":{"domain":["All","NAD"],"range":["black","#70E040"]}}}},
    {"data":{"name":"mito"},"mark":{"type":"point","shape":"square","filled":true,"size":14,"opacity":1},"encoding":{"x":{"field":"x","type":"quantitative","title":"Log2 FPKM ADPRC+","scale":{"domain":[-0.6,15.6],"nice":false,"zero":false}},"y":{"field":"y","type":"quantitative","title":"Log2 FPKM ADPRC-","scale":{"domain":[-0.6,15.6],"nice":false,"zero":false}},"color":{"field":"g","type":"nominal","scale":{"domain":["All","NAD"],"range":["black","#70E040"]}}}},
    {"data":{"name":"diag"},"mark":{"type":"rule","color":"#E02020","strokeWidth":1.5,"clip":true},"encoding":{"x":{"field":"x","type":"quantitative","title":"Log2 FPKM ADPRC+","scale":{"domain":[-0.6,15.6],"nice":false,"zero":false}},"y":{"field":"y","type":"quantitative","title":"Log2 FPKM ADPRC-","scale":{"domain":[-0.6,15.6],"nice":false,"zero":false}},"x2":{"field":"x2"},"y2":{"field":"y2"}}}
   ]},
  {"width":176,"height":130,"title":"Noncoding RNA",
   "layer":[
    {"data":{"name":"nc"},"mark":{"type":"point","shape":"square","filled":true,"size":14,"opacity":1},"encoding":{"x":{"field":"x","type":"quantitative","title":"Log2 FPKM ADPRC+","scale":{"domain":[-0.6,15.6],"nice":false,"zero":false},"axis":{"values":[0,5,10,15],"labelFontSize":18,"labelPadding":2,"titlePadding":-5}},"y":{"field":"y","type":"quantitative","title":"Log2 FPKM ADPRC-","scale":{"domain":[-0.6,15.6],"nice":false,"zero":false},"axis":{"values":[0,5,10,15],"labelFontSize":18,"labelAngle":270,"labelAlign":"center","labelBaseline":"bottom"}},"color":{"field":"g","type":"nominal","scale":{"domain":["All","NAD"],"range":["black","#70E040"]},"legend":{"title":null,"encode":{"labels":{"update":{"fill":{"signal":"datum.value === 'NAD' ? '#70E040' : 'black'"}}}}}}}},
    {"data":{"name":"diag"},"mark":{"type":"rule","color":"#E02020","strokeWidth":1.5,"clip":true},"encoding":{"x":{"field":"x","type":"quantitative","title":"Log2 FPKM ADPRC+","scale":{"domain":[-0.6,15.6],"nice":false,"zero":false}},"y":{"field":"y","type":"quantitative","title":"Log2 FPKM ADPRC-","scale":{"domain":[-0.6,15.6],"nice":false,"zero":false}},"x2":{"field":"x2"},"y2":{"field":"y2"}}}
   ]},
  {"width":176,"height":130,"title":"snoRNA/snRNA/rRNA",
   "layer":[
    {"data":{"name":"sno"},"mark":{"type":"point","shape":"square","filled":true,"size":14,"opacity":1},"encoding":{"x":{"field":"x","type":"quantitative","title":"Log2 FPKM ADPRC+","scale":{"domain":[-0.6,15.6],"nice":false,"zero":false},"axis":{"values":[0,5,10,15],"labelFontSize":18,"labelPadding":2,"titlePadding":-5}},"y":{"field":"y","type":"quantitative","title":"Log2 FPKM ADPRC-","scale":{"domain":[-0.6,15.6],"nice":false,"zero":false},"axis":{"values":[0,5,10,15],"labelFontSize":18,"labelAngle":270,"labelAlign":"center","labelBaseline":"bottom"}},"color":{"field":"g","type":"nominal","scale":{"domain":["All","NAD"],"range":["black","#70E040"]},"legend":{"title":null,"encode":{"labels":{"update":{"fill":{"signal":"datum.value === 'NAD' ? '#70E040' : 'black'"}}}}}}}},
    {"data":{"name":"diag"},"mark":{"type":"rule","color":"#E02020","strokeWidth":1.5,"clip":true},"encoding":{"x":{"field":"x","type":"quantitative","title":"Log2 FPKM ADPRC+","scale":{"domain":[-0.6,15.6],"nice":false,"zero":false}},"y":{"field":"y","type":"quantitative","title":"Log2 FPKM ADPRC-","scale":{"domain":[-0.6,15.6],"nice":false,"zero":false}},"x2":{"field":"x2"},"y2":{"field":"y2"}}}
   ]}
  ]
 }
 ]
}
]
}
